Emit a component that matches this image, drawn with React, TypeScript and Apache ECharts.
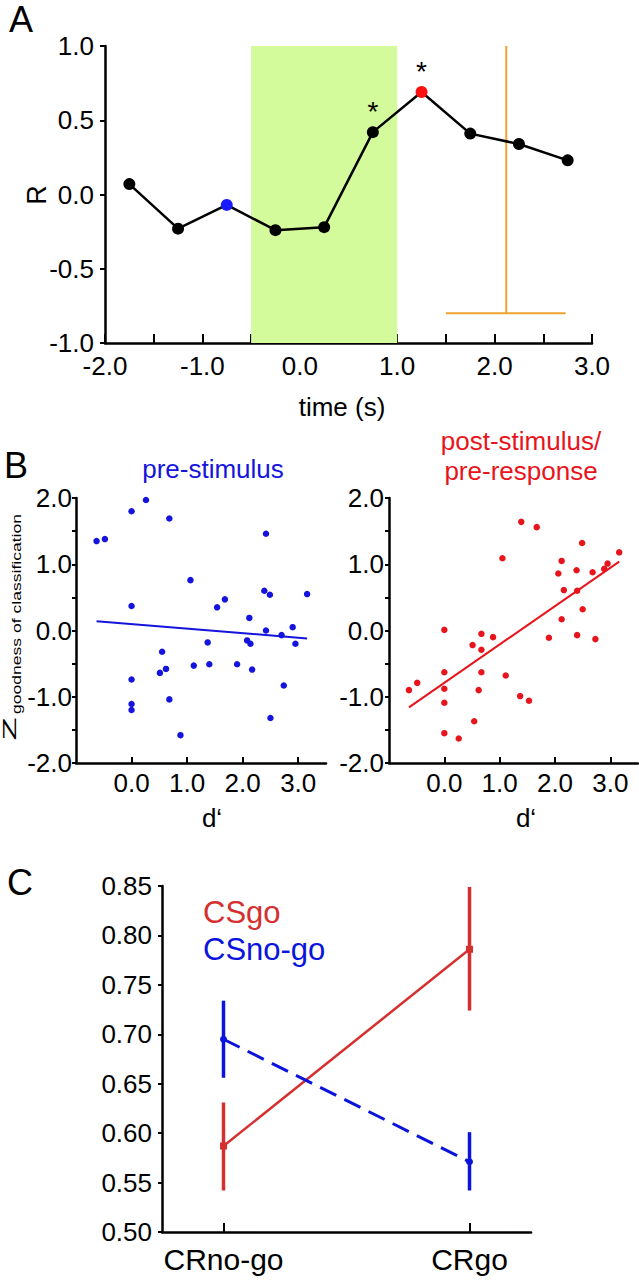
import React, { useEffect, useRef } from 'react';
import * as echarts from 'echarts';

const FONT = '"Liberation Sans", Arial, Helvetica, sans-serif';
const BLUE = '#1414dc';
const RED = '#e8141c';
const C_RED = '#d52f2f';
const C_BLUE = '#0a14dc';
const ORANGE = '#eea230';
const GREEN = '#d3fa9b';

// ---- Panel A ----
const timeBins = [-1.75, -1.25, -0.75, -0.25, 0.25, 0.75, 1.25, 1.75, 2.25, 2.75];
const rValues = [0.07, -0.23, -0.07, -0.24, -0.22, 0.42, 0.69, 0.41, 0.34, 0.23];
const preStimIndex = 2;
const peakIndex = 6;
const significantIndices = [5, 6];
const stimulusWindow = [-0.5, 1.0];
const responseTime = 2.12;
const responseRange = [1.5, 2.73];
const responseY = [1.0, -0.8];
const timeTicks = [-2, -1, 0, 1, 2, 3];

// ---- Panel B ----
const dPrimePre = [-0.63, -0.48, 0.0, 0.26, 0.68, 2.42, 1.06, 0.0, 1.54, 1.68, 2.39, 2.49, 3.16, 2.12, 2.42, 2.9, 2.7, 2.95, 1.37, 2.08, 2.14, 0.55, 1.12, 1.4, 1.9, 2.17, 0.62, 0.51, 0.0, 2.74, 0.68, 0.0, 0.0, 2.5, 0.88];
const zPre = [1.35, 1.38, 1.8, 1.97, 1.69, 1.46, 0.76, 0.37, 0.35, 0.47, 0.6, 0.54, 0.55, 0.19, 0.0, 0.05, -0.07, -0.2, -0.18, -0.15, -0.2, -0.32, -0.53, -0.51, -0.51, -0.59, -0.58, -0.64, -0.74, -0.83, -1.04, -1.11, -1.2, -1.32, -1.58];
const preFitX = [-0.63, 3.16];
const preFitY = [0.14, -0.12];

const dPrimePost = [1.39, 1.67, 1.05, 2.49, 3.16, 2.12, 2.95, 2.06, 2.39, 2.68, 2.89, 2.16, 2.4, 2.5, 2.12, 0.0, 1.89, 2.4, 2.73, 0.67, 0.88, 0.51, 0.67, 0.0, 0.67, 1.11, -0.64, -0.49, 0.0, 0.62, 0.0, 1.37, 1.53, 0.54, 0.0, 0.26];
const zPost = [1.64, 1.56, 1.09, 1.32, 1.18, 1.05, 1.01, 0.86, 0.91, 0.88, 0.93, 0.61, 0.6, 0.32, 0.17, 0.01, -0.11, -0.07, -0.13, -0.05, -0.1, -0.22, -0.29, -0.63, -0.63, -0.68, -0.9, -0.79, -0.88, -0.9, -1.09, -0.99, -1.06, -1.37, -1.55, -1.63];
const postFitX = [-0.64, 3.16];
const postFitY = [-1.16, 1.04];
const dPrimeTicks = [0, 1, 2, 3];

// ---- Panel C ----
const conditions = ['CRno-go', 'CRgo'];
const conditionPos = [1, 5];
const csGoMean = [0.587, 0.786];
const csGoLow = [0.542, 0.724];
const csGoHigh = [0.631, 0.849];
const csNoGoMean = [0.695, 0.571];
const csNoGoLow = [0.656, 0.542];
const csNoGoHigh = [0.734, 0.601];

const axisLineStyle = { show: true, onZero: false, lineStyle: { color: '#000', width: 2.5 } };
const lbl = (size: number, margin: number, formatter: any, extra: any = {}) => ({
  show: true, color: '#000', fontSize: size, fontFamily: FONT, margin, formatter, ...extra,
});

const txt = (text: string, x: number, y: number, size: number, fill = '#000', extra: any = {}) => ({
  type: 'text', x, y, ...extra,
  style: { text, fontSize: size, fontFamily: FONT, fill, align: 'center', verticalAlign: 'middle', ...(extra.style || {}) },
});

function errorBars(low: number[], high: number[], color: string) {
  return {
    type: 'custom', xAxisIndex: 3, yAxisIndex: 3, z: 4,
    data: conditionPos.map((x, i) => [x, low[i], high[i]]),
    encode: { x: 0, y: [1, 2] },
    renderItem: (_p: any, api: any) => {
      const lo = api.coord([api.value(0), api.value(1)]);
      const hi = api.coord([api.value(0), api.value(2)]);
      return { type: 'line', shape: { x1: lo[0], y1: lo[1], x2: hi[0], y2: hi[1] }, style: { stroke: color, lineWidth: 3.5 } };
    },
  };
}

function buildOption(): any {
  const intLabel = (v: number) => (Number.isInteger(Math.round(v * 1000) / 1000) ? v.toFixed(1) : '');
  return {
    animation: false,
    backgroundColor: '#fff',
    grid: [
      { left: 105, top: 46, width: 487, height: 297 },
      { left: 76, top: 498, width: 250, height: 265 },
      { left: 389, top: 498, width: 249, height: 265 },
      { left: 162, top: 886, width: 369, height: 346 },
    ],
    xAxis: [
      {
        type: 'value', gridIndex: 0, min: -2, max: 3, interval: 0.5,
        axisLine: axisLineStyle,
        axisTick: { show: true, inside: true, length: 9, lineStyle: { color: '#000', width: 2 } },
        axisLabel: lbl(26, 10, (v: number) => (timeTicks.includes(Math.round(v * 100) / 100) ? v.toFixed(1) : '')),
        splitLine: { show: false },
      },
      {
        type: 'value', gridIndex: 1, min: -1, max: 3.5, interval: 1,
        axisLine: axisLineStyle,
        axisTick: { show: true, inside: true, length: 6, customValues: dPrimeTicks, lineStyle: { color: '#000', width: 2 } },
        axisLabel: lbl(26, 7, (v: number) => v.toFixed(1), { customValues: dPrimeTicks }),
        splitLine: { show: false },
      },
      {
        type: 'value', gridIndex: 2, min: -1, max: 3.5, interval: 1,
        axisLine: axisLineStyle,
        axisTick: { show: true, inside: true, length: 6, customValues: dPrimeTicks, lineStyle: { color: '#000', width: 2 } },
        axisLabel: lbl(26, 7, (v: number) => v.toFixed(1), { customValues: dPrimeTicks }),
        splitLine: { show: false },
      },
      {
        type: 'value', gridIndex: 3, min: 0, max: 6, interval: 1,
        axisLine: axisLineStyle,
        axisTick: { show: true, inside: true, length: 9, customValues: conditionPos, lineStyle: { color: '#000', width: 2 } },
        axisLabel: lbl(30, 12, (v: number) => conditions[conditionPos.indexOf(v)] ?? '', { customValues: conditionPos }),
        splitLine: { show: false },
      },
    ],
    yAxis: [
      {
        type: 'value', gridIndex: 0, min: -1, max: 1, interval: 0.5,
        axisLine: axisLineStyle,
        axisTick: { show: true, inside: false, length: 5, lineStyle: { color: '#000', width: 2 } },
        axisLabel: lbl(26, 11, (v: number) => v.toFixed(1)),
        splitLine: { show: false },
      },
      {
        type: 'value', gridIndex: 1, min: -2, max: 2, interval: 0.5,
        axisLine: axisLineStyle,
        axisTick: { show: true, inside: false, length: 4, lineStyle: { color: '#000', width: 2 } },
        axisLabel: lbl(26, 4, intLabel),
        splitLine: { show: false },
      },
      {
        type: 'value', gridIndex: 2, min: -2, max: 2, interval: 0.5,
        axisLine: axisLineStyle,
        axisTick: { show: true, inside: false, length: 4, lineStyle: { color: '#000', width: 2 } },
        axisLabel: lbl(26, 5, intLabel),
        splitLine: { show: false },
      },
      {
        type: 'value', gridIndex: 3, min: 0.5, max: 0.85, interval: 0.05,
        axisLine: axisLineStyle,
        axisTick: { show: true, inside: false, length: 4, lineStyle: { color: '#000', width: 2 } },
        axisLabel: lbl(26, 10, (v: number) => v.toFixed(2)),
        splitLine: { show: false },
      },
    ],
    series: [
      {
        type: 'line', xAxisIndex: 0, yAxisIndex: 0, z: 1, symbol: 'none',
        data: [[responseTime, responseY[0]], [responseTime, responseY[1]]],
        lineStyle: { color: ORANGE, width: 2 },
        markArea: {
          silent: true,
          itemStyle: { color: GREEN },
          data: [[{ xAxis: stimulusWindow[0] }, { xAxis: stimulusWindow[1] }]],
        },
      },
      {
        type: 'line', xAxisIndex: 0, yAxisIndex: 0, z: 1, symbol: 'none',
        data: [[responseRange[0], responseY[1]], [responseRange[1], responseY[1]]],
        lineStyle: { color: ORANGE, width: 2 },
      },
      {
        type: 'line', xAxisIndex: 0, yAxisIndex: 0, z: 3,
        symbol: 'circle', symbolSize: 12,
        lineStyle: { color: '#000', width: 2.5 },
        itemStyle: { color: '#000' },
        data: timeBins.map((t, i) => ({
          value: [t, rValues[i]],
          itemStyle: { color: i === preStimIndex ? '#1a1aff' : i === peakIndex ? '#ff1010' : '#000' },
          label: significantIndices.includes(i)
            ? { show: true, formatter: '*', position: 'top', distance: 1, fontSize: 28, fontFamily: FONT, color: '#000' }
            : { show: false },
        })),
      },
      {
        type: 'scatter', xAxisIndex: 1, yAxisIndex: 1, symbolSize: 6.5,
        itemStyle: { color: BLUE, opacity: 1 },
        data: dPrimePre.map((d, i) => [d, zPre[i]]),
      },
      {
        type: 'line', xAxisIndex: 1, yAxisIndex: 1, symbol: 'none',
        lineStyle: { color: BLUE, width: 2 },
        data: preFitX.map((x, i) => [x, preFitY[i]]),
      },
      {
        type: 'scatter', xAxisIndex: 2, yAxisIndex: 2, symbolSize: 6.5,
        itemStyle: { color: RED, opacity: 1 },
        data: dPrimePost.map((d, i) => [d, zPost[i]]),
      },
      {
        type: 'line', xAxisIndex: 2, yAxisIndex: 2, symbol: 'none',
        lineStyle: { color: RED, width: 2 },
        data: postFitX.map((x, i) => [x, postFitY[i]]),
      },
      {
        type: 'line', xAxisIndex: 3, yAxisIndex: 3, z: 3,
        symbol: 'rect', symbolSize: 7,
        itemStyle: { color: C_RED },
        lineStyle: { color: C_RED, width: 2.5 },
        data: conditionPos.map((x, i) => [x, csGoMean[i]]),
      },
      {
        type: 'line', xAxisIndex: 3, yAxisIndex: 3, z: 3,
        symbol: 'circle', symbolSize: 7,
        itemStyle: { color: C_BLUE },
        lineStyle: { color: C_BLUE, width: 3, type: [18, 9] },
        data: conditionPos.map((x, i) => [x, csNoGoMean[i]]),
      },
      errorBars(csGoLow, csGoHigh, C_RED),
      errorBars(csNoGoLow, csNoGoHigh, C_BLUE),
    ],
    graphic: [
      txt('A', 21, 19, 36),
      txt('B', 16, 465, 36),
      txt('C', 20, 882, 36),
      txt('R', 37, 195, 27, '#000', { rotation: Math.PI / 2 }),
      txt('time (s)', 342, 407, 26),
      txt('pre-stimulus', 213, 469, 26, BLUE),
      txt('post-stimulus/\npre-response', 521, 456, 26, RED, { style: { lineHeight: 30 } }),
      txt('d\u2018', 212, 818, 26),
      txt('d\u2018', 526, 818, 26),
      txt('Z', 9, 729, 19, '#000', { rotation: Math.PI / 2, scaleX: 2.0 }),
      txt('goodness of classification', 16, 614, 13, '#000', { rotation: Math.PI / 2, scaleX: 1.35 }),
      { type: 'text', x: 203, y: 912, style: { text: 'CSgo', fontSize: 31, fontFamily: FONT, fill: C_RED, align: 'left', verticalAlign: 'middle' } },
      { type: 'text', x: 203, y: 949, style: { text: 'CSno-go', fontSize: 31, fontFamily: FONT, fill: C_BLUE, align: 'left', verticalAlign: 'middle' } },
    ],
  };
}

export default function App() {
  const ref = useRef<HTMLDivElement>(null);
  useEffect(() => {
    if (!ref.current) return;
    const chart = echarts.init(ref.current, null, { renderer: 'svg' });
    chart.setOption(buildOption());
    return () => chart.dispose();
  }, []);
  return (
    <div
      ref={ref}
      style={{ position: 'absolute', left: 0, top: 0, width: 639, height: 1280, background: '#fff' }}
    />
  );
}
